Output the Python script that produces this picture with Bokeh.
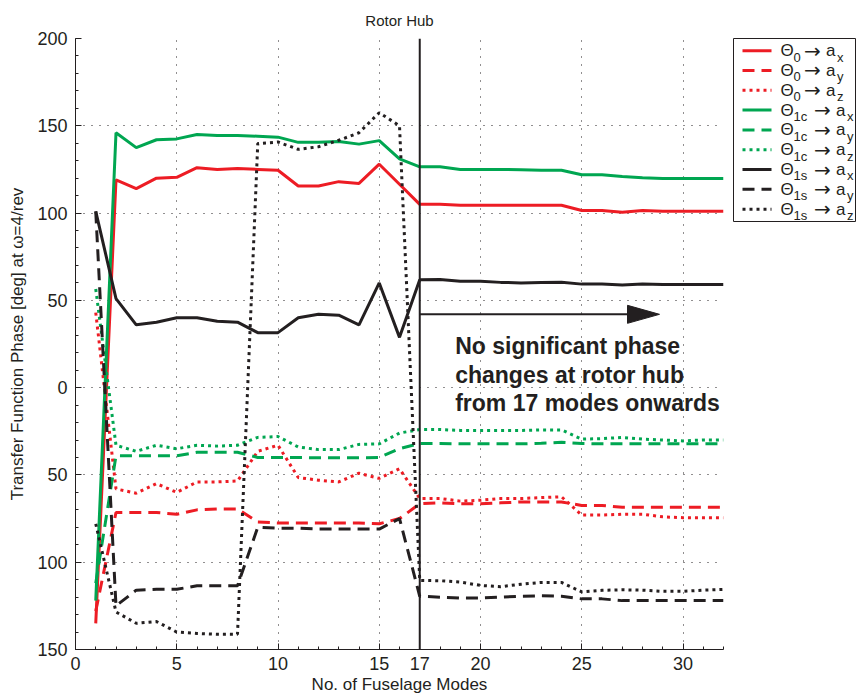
from bokeh.plotting import figure
from bokeh.models import Range1d, FixedTicker, Span, Label, ColumnDataSource
from bokeh.layouts import row
from bokeh.embed import file_html
from bokeh.resources import INLINE
from bokeh.core.properties import value

# ---------------- data ----------------
modes = list(range(1, 33))

theta0_ax = [-135, 119, 114, 120, 120.5, 126, 125, 125.5, 125, 124.5, 115.5, 115.5, 118, 117, 128, 116.5,
             105, 105, 104.5, 104.5, 104.5, 104.5, 104.5, 104.5, 101.5, 101.5, 100.5, 101.5, 101, 101, 101, 101]
theta0_ay = [-128, -71.5, -71.5, -71.5, -72.5, -70, -69.5, -69.5, -77, -77.5, -77.5, -77.5, -77.5, -77.5, -78, -75,
             -66.5, -66, -66.5, -66.5, -66, -65.5, -65.5, -65.5, -67.5, -67.5, -68.5, -68.5, -68.5, -68.5, -68.5, -68.5]
theta0_az = [43, -58, -60.5, -55, -60, -54, -54, -53.5, -36.5, -33, -51.5, -53, -54, -49, -52, -46.5,
             -63.5, -63.5, -65, -64.5, -63.5, -63.5, -63, -62.5, -73, -73, -72.5, -72.5, -74, -74.5, -74.5, -74.5]
theta1c_ax = [-122, 146, 137.5, 142, 142.5, 145, 144.5, 144.5, 144, 143.5, 140.5, 140.5, 141, 139.5, 141.5, 131,
              126.5, 126.5, 125, 125, 125, 124.8, 124.5, 124.5, 122, 122, 121, 120.2, 119.8, 119.8, 119.8, 119.8]
theta1c_ay = [-112, -39, -39, -39, -39, -37, -37, -37, -40, -40, -40, -40.2, -40.2, -40.2, -40, -35,
              -32, -32, -32.2, -32.2, -32.2, -32.2, -31.8, -31.3, -32, -32.2, -32.2, -32.2, -32.2, -32.2, -32.2, -32.2]
theta1c_az = [56.5, -33, -36.5, -33, -35, -33, -33.5, -33, -28.5, -28, -34, -35.5, -35.5, -32.5, -32.2, -26,
              -24, -24, -24.5, -24.5, -24.5, -24.5, -24.2, -24.2, -29.5, -29.2, -28.5, -29.5, -30, -30.5, -30, -30]
theta1s_ax = [101, 51, 36, 37.5, 40, 40, 38, 37.5, 31.5, 31.5, 40, 42, 41.5, 36, 60, 28.8,
              61.8, 62, 61, 61, 60.3, 60, 60.2, 60.4, 59.3, 59.3, 58.8, 59.3, 59.1, 59.1, 59.1, 59.1]
theta1s_ay = [101, -125, -116, -115.5, -115.5, -113.5, -113.5, -113.5, -80, -80.5, -80.5, -81, -81, -81, -81, -75,
              -119.5, -120, -120.5, -120.5, -120, -119.5, -119.2, -119.5, -121, -121, -122, -122, -122, -122, -122, -122]
theta1s_az = [-78, -128.5, -135, -134, -140, -140.8, -141.3, -141.3, 139.8, 140.7, 136.5, 138, 141.7, 146, 157.5, 150,
              -110.4, -110.6, -111.4, -113.3, -114, -112.6, -111.6, -111.6, -117, -116.1, -115.8, -116, -116.7, -116.7, -116, -115.6]

series = [theta0_ax, theta0_ay, theta0_az, theta1c_ax, theta1c_ay, theta1c_az, theta1s_ax, theta1s_ay, theta1s_az]
theta_subs = ["0", "0", "0", "1c", "1c", "1c", "1s", "1s", "1s"]
acc_subs = ["x", "y", "z", "x", "y", "z", "x", "y", "z"]

x_ticks = [0, 5, 10, 15, 17, 20, 25, 30]
y_ticks = [-150, -100, -50, 0, 50, 100, 150, 200]
y_tick_labels = {-150: "150", -100: "100", -50: "50", 0: "0", 50: "50", 100: "100", 150: "150", 200: "200"}

title_text = "Rotor Hub"
x_label = "No. of Fuselage Modes"
y_label = "Transfer Function Phase [deg] at \u03c9=4/rev"
note_lines = ["No significant phase", "changes at rotor hub", "from 17 modes onwards"]
cutoff_mode = 17

# ---------------- styles ----------------
RED = "#ED1C24"
GREEN = "#00A651"
BLACK = "#231F20"
colors = [RED] * 3 + [GREEN] * 3 + [BLACK] * 3
dashes = ["solid", "12 7", "3 4"] * 3
FONT = "Liberation Sans"

FRAME_W, FRAME_H = 648, 611
p = figure(width=732, height=697, x_range=Range1d(0, 32), y_range=Range1d(-150, 200),
           output_backend="svg", toolbar_location=None, tools="",
           min_border_left=75, min_border_right=9, min_border_top=38, min_border_bottom=48)
p.background_fill_color = "white"
p.border_fill_color = "white"
p.outline_line_color = None

p.title.text = title_text
p.title.align = "center"
p.title.text_font = FONT
p.title.text_font_size = "15px"
p.title.text_font_style = "normal"
p.title.text_color = BLACK
p.title.standoff = 19

for ax in (p.xaxis[0], p.yaxis[0]):
    ax.axis_line_color = BLACK
    ax.axis_line_width = 1
    ax.major_tick_in = 6
    ax.major_tick_out = 0
    ax.minor_tick_in = 3
    ax.minor_tick_out = 0
    ax.major_tick_line_color = BLACK
    ax.minor_tick_line_color = BLACK
    ax.major_label_text_font = FONT
    ax.major_label_text_font_size = "18px"
    ax.major_label_text_color = BLACK
    ax.axis_label_text_font = FONT
    ax.axis_label_text_font_size = "17px"
    ax.axis_label_text_font_style = "normal"
    ax.axis_label_text_color = BLACK

p.xaxis.ticker = FixedTicker(ticks=x_ticks, minor_ticks=list(range(0, 33)))
p.yaxis.ticker = FixedTicker(ticks=y_ticks, minor_ticks=list(range(-150, 201, 10)))
p.yaxis.major_label_overrides = y_tick_labels
p.xaxis.axis_label = x_label
p.yaxis.axis_label = y_label
p.xaxis.major_label_standoff = 7
p.xaxis.axis_label_standoff = 2
p.yaxis.major_label_standoff = 8
p.yaxis.axis_label_standoff = 7

p.xgrid.ticker = FixedTicker(ticks=[5, 10, 15, 20, 25, 30])
p.ygrid.ticker = FixedTicker(ticks=[-100, -50, 0, 50, 100, 150, 200])
for g in (p.xgrid[0], p.ygrid[0]):
    g.grid_line_color = BLACK
    g.grid_line_dash = "1 7"
    g.grid_line_width = 1

for vals, c, d in zip(series, colors, dashes):
    src = ColumnDataSource(dict(x=modes, y=vals))
    p.line("x", "y", source=src, line_color=c, line_width=3, line_dash=d)

p.add_layout(Span(location=cutoff_mode, dimension="height", line_color=BLACK, line_width=2))

# arrow (annotation)
arrow_y = 42
arrow_tip = 28.84
head_len_px, head_half_px = 32, 9
xs_per_px = 32 / FRAME_W
ys_per_px = 350 / FRAME_H
head_base = arrow_tip - head_len_px * xs_per_px
p.line([cutoff_mode, head_base], [arrow_y, arrow_y], line_color=BLACK, line_width=2)
p.patch([head_base, arrow_tip, head_base], [arrow_y + head_half_px * ys_per_px, arrow_y, arrow_y - head_half_px * ys_per_px],
        fill_color=BLACK, line_color=BLACK)

note_y = [24, 7.5, -9]
for t, yy in zip(note_lines, note_y):
    p.add_layout(Label(x=18.75, y=yy, text=t, text_font=FONT, text_font_size="23px",
                       text_font_style="bold", text_color=BLACK, text_baseline="middle"))

# ---------------- legend (separate panel) ----------------
LW, LH = 123, 230
leg = figure(width=LW + 1, height=LH + 38 + 1, x_range=Range1d(0, LW), y_range=Range1d(LH, 0),
             output_backend="svg", toolbar_location=None, tools="",
             min_border_left=1, min_border_right=0, min_border_top=38, min_border_bottom=1)
leg.axis.visible = False
leg.xgrid.visible = False
leg.ygrid.visible = False
leg.outline_line_color = BLACK
leg.outline_line_width = 1
leg.background_fill_color = "white"
leg.border_fill_color = "white"

row_y0, row_dy = 15.3, 24.9
main_x, main_y, main_t = [], [], []
arr_x, arr_y = [], []
sub_x, sub_y, sub_t = [], [], []
for i, (ts, acs, c, d) in enumerate(zip(theta_subs, acc_subs, colors, dashes)):
    yy = row_y0 + row_dy * i
    leg.line([9, 38], [yy, yy], line_color=c, line_width=3, line_dash=d)
    shift = 0 if ts == "0" else 10
    main_x += [47, 92.5 + shift]
    main_y += [yy, yy]
    main_t += ["\u0398", "a"]
    arr_x.append(70.5 + shift)
    arr_y.append(yy)
    sub_x += [60, 103.5 + shift]
    sub_y += [yy + 8, yy + 8]
    sub_t += [ts, acs]

leg.text(x=main_x, y=main_y, text=main_t, text_font=value(FONT), text_font_size="17px",
         text_color=BLACK, text_baseline="middle")
leg.text(x=arr_x, y=arr_y, text=["\u2192"] * len(arr_x), text_font=value("DejaVu Sans"), text_font_size="20px",
         text_color=BLACK, text_baseline="middle")
leg.text(x=sub_x, y=sub_y, text=sub_t, text_font=value(FONT), text_font_size="13px",
         text_color=BLACK, text_baseline="middle")

layout = row(p, leg)
open("out.html", "w").write(file_html(layout, INLINE))
